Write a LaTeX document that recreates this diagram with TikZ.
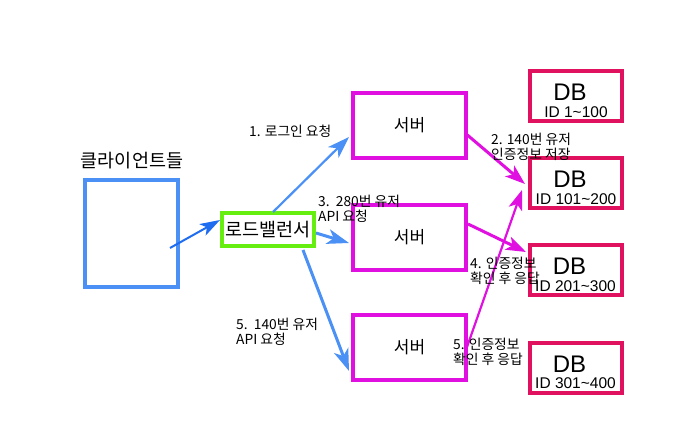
\documentclass[tikz,border=0pt]{standalone}
\usepackage{fontspec}
\setmainfont{Noto Sans CJK KR}
\newfontfamily\latfont{Liberation Sans}
\usetikzlibrary{arrows.meta}
\definecolor{cblue}{HTML}{4A90F5}
\definecolor{dblue}{HTML}{1E6CF0}
\definecolor{lbgreen}{HTML}{66EE11}
\definecolor{srvmag}{HTML}{E011E0}
\definecolor{dbred}{HTML}{E0115F}
\tikzset{
  box/.style={draw, line width=4pt, inner sep=0pt},
  srv/.style={box, draw=srvmag, minimum width=113pt, minimum height=65pt, font=\fontsize{17}{19}\selectfont},
  dbbox/.style={box, draw=dbred, minimum width=92pt, minimum height=50pt},
  lbl/.style={font=\fontsize{13.8}{14.5}\selectfont, align=left, inner sep=0pt, anchor=north west},
  barrow/.style={draw=cblue, line width=3pt, -{Stealth[length=22pt,width=15pt,inset=6pt]}},
  marrow/.style={draw=srvmag, line width=3pt, -{Stealth[length=20pt,width=14pt,inset=5pt]}},
}
\begin{document}
\begin{tikzpicture}[x=1pt,y=-1pt]
\useasboundingbox (0,0) rectangle (677,444);
% client
\node[box, draw=cblue, minimum width=93pt, minimum height=107pt] (cl) at (131.5,233.5) {};
\node[font=\fontsize{18.5}{20}\selectfont, inner sep=0pt] (clt) at (132,161) {클라이언트들};
% load balancer
\node[box, draw=lbgreen, minimum width=92pt, minimum height=33pt, font=\fontsize{18.5}{20}\selectfont] (lb) at (268,229.5) {로드밸런서};
% servers
\node[srv] (s1) at (409.5,125.5) {서버};
\node[srv] (s2) at (409.5,237) {서버};
\node[srv] (s3) at (409.5,347.5) {서버};
% dbs
\node[dbbox] (d1) at (576,96) {};
\node[dbbox] (d2) at (576,183) {};
\node[dbbox] (d3) at (575.5,270) {};
\node[dbbox] (d4) at (575.5,367.5) {};
\foreach \d/\t in {d1/ID 1\char`\~100, d2/ID 101\char`\~200, d3/ID 201\char`\~300, d4/ID 301\char`\~400}{
  \node[font=\latfont\fontsize{24}{26}\selectfont, inner sep=0pt] at ([xshift=-6pt,yshift=3.5pt]\d.center) {DB};
  \node[font=\latfont\fontsize{15.5}{17}\selectfont, inner sep=0pt] at ([yshift=-16pt]\d.center) {\t};
}
% coordinates for arrow ends
\coordinate (c0) at (170,248);
\coordinate (lb1) at (273,212);
\coordinate (lb3) at (316,233);
\coordinate (lb5) at (303,250);
\coordinate (s1a) at (349,137);
\coordinate (s2a) at (349,243);
\coordinate (s3a) at (349,371);
\coordinate (s1b) at (465,133);
\coordinate (s2b) at (468,224);
\coordinate (s3b) at (467,347);
\coordinate (d2a) at (525,184);
\coordinate (d2b) at (522,190);
\coordinate (d3a) at (526,252);
% arrows
\draw[draw=dblue, line width=2pt, -{Stealth[length=20pt,width=13pt,inset=5pt]}] (c0) -- (lb.west |- 0,220);
\draw[barrow, line width=2.2pt] (lb1) -- (s1a);
\draw[barrow] (lb3) -- (s2a);
\draw[barrow] (lb5) -- (s3a);
\draw[marrow] (s1b) -- (d2a);
\draw[marrow] (s2b) -- (d3a);
\draw[marrow, line width=2.2pt] (s3b) -- (d2b);
% labels
\node[lbl] (l1) at (249,125) {1. 로그인 요청};
\node[lbl] (l3) at (318,195) {3.\ \ 280번 유저\\API 요청};
\node[lbl] (l5) at (236,318) {5.\ \ 140번 유저\\API 요청};
\node[lbl] (l2) at (491,133) {2. 140번 유저\\인증정보 저장};
\node[lbl] (l4) at (470,257) {4. 인증정보\\확인 후 응답};
\node[lbl] (l6) at (453,338) {5. 인증정보\\확인 후 응답};
\end{tikzpicture}
\end{document}
